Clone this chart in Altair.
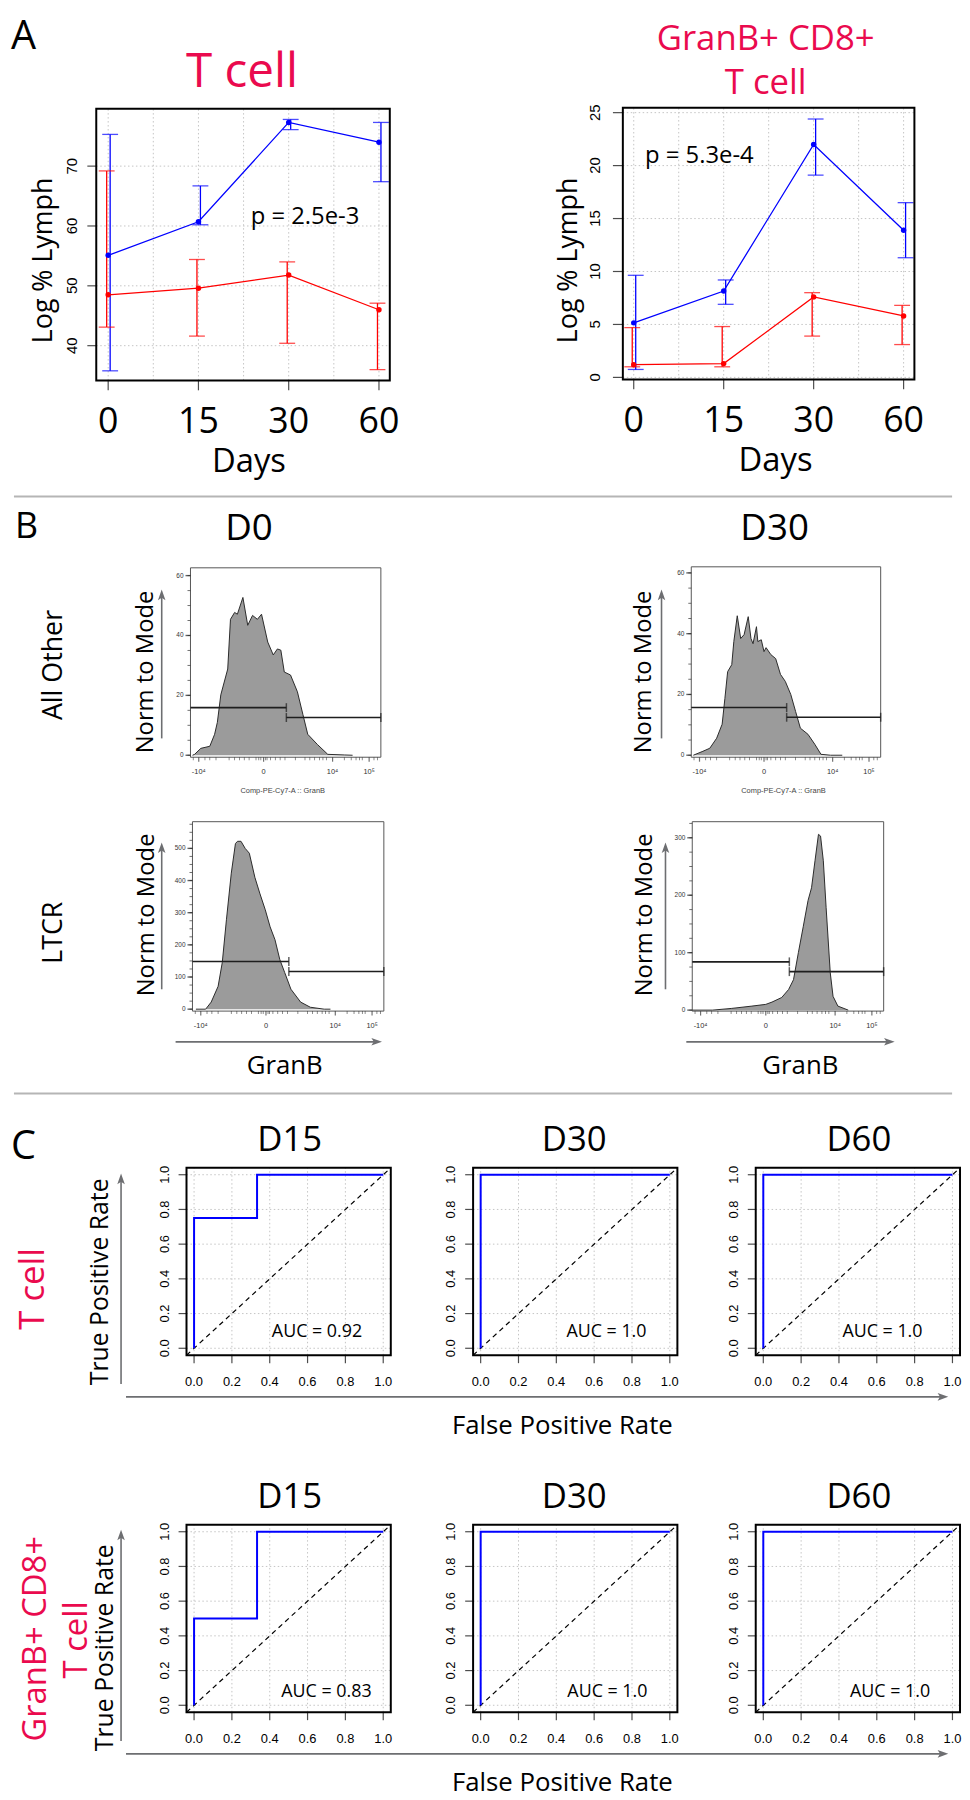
import altair as alt
import pandas as pd

# ---------------- Panel A data ----------------
days = ["0", "15", "30", "60"]
a_grid_x = [0, 0.5, 1, 1.5, 2, 2.5, 3]
tc_blue_mean = [55.1, 60.7, 77.3, 74.0]
tc_blue_low = [35.8, 60.2, 76.1, 67.4]
tc_blue_high = [75.3, 66.7, 77.8, 77.3]
tc_red_mean = [48.5, 49.6, 51.8, 46.0]
tc_red_low = [43.1, 41.6, 40.4, 36.0]
tc_red_high = [69.2, 54.4, 54.0, 47.1]
gb_blue_mean = [5.15, 8.15, 22.0, 13.9]
gb_blue_low = [0.75, 6.9, 19.1, 11.3]
gb_blue_high = [9.64, 9.2, 24.4, 16.5]
gb_red_mean = [1.2, 1.3, 7.6, 5.8]
gb_red_low = [1.0, 1.0, 3.9, 3.1]
gb_red_high = [4.7, 4.8, 8.0, 6.8]
tc_yticks = [40, 50, 60, 70]
gb_yticks = [0, 5, 10, 15, 20, 25]
p_texts = ["p = 2.5e-3", "p = 5.3e-4"]

# ---------------- Panel B data (display-scale GranB vs count) ----------------
logicle_ticks = [-0.94, 0.0, 1.0, 1.53]
logicle_labels = ["-10⁴", "0", "10⁴", "10⁵"]
logicle_minor = [-1.02, -0.85, -0.78, -0.69, -0.50, -0.42, -0.35, -0.28, -0.21, -0.11,
                 -0.07, -0.04, 0.03, 0.05, 0.10, 0.17, 0.24, 0.31, 0.46, 0.60, 0.67,
                 0.74, 0.81, 0.86, 0.91, 1.17, 1.27, 1.34, 1.39, 1.43, 1.60, 1.65]
ao_d0_x = [-1.03, -1.00, -0.91, -0.78, -0.71, -0.67, -0.62, -0.52, -0.48, -0.42, -0.38,
           -0.30, -0.23, -0.16, -0.09, -0.03, 0.06, 0.14, 0.20, 0.25, 0.30, 0.39, 0.49,
           0.57, 0.64, 0.78, 0.93, 1.17, 1.29]
ao_d0_y = [0, 0.3, 2.3, 3.0, 7.0, 11.0, 20.2, 28.8, 45.4, 47.7, 47.1, 52.7, 43.4, 46.7,
           45.4, 47.1, 37.8, 33.5, 35.5, 35.1, 27.8, 26.8, 21.2, 13.6, 7.0, 3.6, 0.3, 0.1, 0]
ao_d30_x = [-1.03, -0.89, -0.79, -0.69, -0.61, -0.57, -0.53, -0.47, -0.44, -0.39, -0.34,
            -0.29, -0.23, -0.19, -0.16, -0.11, -0.09, -0.04, 0.00, 0.03, 0.10, 0.17, 0.24,
            0.31, 0.39, 0.46, 0.53, 0.64, 0.74, 0.83, 0.97, 1.14]
ao_d30_y = [0, 1.3, 2.3, 5.6, 10.2, 18.7, 27.5, 29.8, 37.4, 45.9, 38.4, 39.7, 45.6, 38.4,
            36.7, 42.3, 37.4, 38.0, 34.1, 35.4, 33.1, 31.8, 26.6, 24.3, 20.0, 14.4, 8.9,
            6.9, 3.6, 0.3, 0, 0]
ltcr_d0_x = [-1.01, -0.87, -0.79, -0.69, -0.63, -0.57, -0.50, -0.44, -0.41, -0.36, -0.30,
             -0.24, -0.16, -0.09, -0.01, 0.06, 0.13, 0.20, 0.27, 0.36, 0.50, 0.64, 0.84, 0.93]
ltcr_d0_y = [0, 0, 22, 71, 145, 278, 423, 515, 522, 522, 500, 485, 410, 361, 309, 256,
             216, 154, 114, 62, 22, 6, 0, 0]
ltcr_d30_x = [-1.06, -0.77, -0.49, -0.20, 0.00, 0.09, 0.23, 0.33, 0.40, 0.47, 0.54, 0.61,
              0.66, 0.71, 0.76, 0.79, 0.83, 0.87, 0.93, 0.97, 1.04, 1.19]
ltcr_d30_y = [0, 0, 3, 7, 10, 14, 22, 36, 53, 100, 145, 191, 213, 260, 306, 303, 260, 179,
              65, 24, 7, 0]
gate_split = [0.33, 0.33, 0.33, 0.34]
gate_left_level = [15.9, 15.7, 148, 84]
gate_right_level = [12.6, 12.5, 117, 67]
ao_yticks = list(range(0, 61, 5))
ao_ylabels = [0, 20, 40, 60]
ltcr_d0_yticks = list(range(0, 576, 25))
ltcr_d0_ylabels = [0, 100, 200, 300, 400, 500]
ltcr_d30_yticks = list(range(0, 326, 25))
ltcr_d30_ylabels = [0, 100, 200, 300]

# ---------------- Panel C data ----------------
roc_days = ["D15", "D30", "D60"]
roc_ticks = [0.0, 0.2, 0.4, 0.6, 0.8, 1.0]
roc_tick_labels = ["0.0", "0.2", "0.4", "0.6", "0.8", "1.0"]
tcell_fpr = [[0, 0, 0.333, 0.333, 1], [0, 0, 1], [0, 0, 1]]
tcell_tpr = [[0, 0.75, 0.75, 1, 1], [0, 1, 1], [0, 1, 1]]
granb_fpr = [[0, 0, 0.333, 0.333, 1], [0, 0, 1], [0, 0, 1]]
granb_tpr = [[0, 0.5, 0.5, 1, 1], [0, 1, 1], [0, 1, 1]]
tcell_auc = ["AUC = 0.92", "AUC = 1.0", "AUC = 1.0"]
granb_auc = ["AUC = 0.83", "AUC = 1.0", "AUC = 1.0"]

# ---------------- styling / layout ----------------
W, H = 962, 1792
SANS = "Open Sans"
RSANS = "Liberation Sans"
PINK = "#EA0A4E"
GREY = "#6D6E71"
BLUE = "#0000FF"
RED = "#FF0000"
GRID = "#C4C4C4"
ONE = pd.DataFrame({"k": [0]})


def XD(v, xs):
    return alt.XDatum(v, scale=xs, axis=None, type="quantitative")


def YD(v, ys):
    return alt.YDatum(v, scale=ys, axis=None, type="quantitative")


def txt(s, x, y, size, angle=0, color="black", font=SANS, align="center", baseline="alphabetic"):
    return alt.Chart(ONE).mark_text(text=s, fontSize=size, angle=angle, color=color, font=font,
                                    align=align, baseline=baseline).encode(
        x=alt.value(x), y=alt.value(y))


def hline(x0, x1, y, color=GREY, w=1.6):
    return alt.Chart(ONE).mark_rule(color=color, strokeWidth=w).encode(
        x=alt.value(x0), x2=alt.value(x1), y=alt.value(y))


def vline(x, y0, y1, color=GREY, w=1.6):
    return alt.Chart(ONE).mark_rule(color=color, strokeWidth=w).encode(
        x=alt.value(x), y=alt.value(y0), y2=alt.value(y1))


UP = "M0,-1L0.62,0.75L0,0.35L-0.62,0.75Z"
RIGHT = "M1,0L-0.75,0.62L-0.35,0L-0.75,-0.62Z"


def head(x, y, shape):
    return alt.Chart(ONE).mark_point(shape=shape, filled=True, size=150, color=GREY,
                                     opacity=1, strokeWidth=0).encode(x=alt.value(x), y=alt.value(y))


def arrow_up(x, ybot, ytip):
    return [vline(x, ybot, ytip + 4), head(x, ytip + 6, UP)]


def arrow_right(x0, xtip, y):
    return [hline(x0, xtip - 4, y), head(xtip - 6, y, RIGHT)]


def frame(xs, ys, xdom, ydom, color="black", w=2.0):
    return alt.Chart(ONE).mark_rect(fill="transparent", stroke=color, strokeWidth=w).encode(
        x=XD(xdom[0], xs), x2=alt.X2Datum(xdom[1]), y=YD(ydom[0], ys), y2=alt.Y2Datum(ydom[1]))


def vgrid(vals, xs, ys, ydom):
    return alt.Chart(pd.DataFrame({"g": vals})).mark_rule(
        color=GRID, strokeDash=[1.5, 2.5], strokeWidth=1).encode(
        x=alt.X("g:Q", scale=xs, axis=None), y=YD(ydom[0], ys), y2=alt.Y2Datum(ydom[1]))


def hgrid(vals, xs, ys, xdom):
    return alt.Chart(pd.DataFrame({"g": vals})).mark_rule(
        color=GRID, strokeDash=[1.5, 2.5], strokeWidth=1).encode(
        y=alt.Y("g:Q", scale=ys, axis=None), x=XD(xdom[0], xs), x2=alt.X2Datum(xdom[1]))


def x_axis(vals, labels, xs, ys, ydom, tick, lab_off, font, size, color="black", tw=1.2):
    d = pd.DataFrame({"v": vals, "lab": labels})
    out = [alt.Chart(d).mark_tick(orient="vertical", size=tick, thickness=tw, color=color,
                                  yOffset=tick / 2).encode(
        x=alt.X("v:Q", scale=xs, axis=None), y=YD(ydom[0], ys))]
    out.append(alt.Chart(d).mark_text(font=font, fontSize=size, color=color,
                                      baseline="alphabetic", yOffset=lab_off).encode(
        x=alt.X("v:Q", scale=xs, axis=None), y=YD(ydom[0], ys), text="lab:N"))
    return out


def y_ticks(vals, xs, ys, xdom, tick, color="black", tw=1.2):
    d = pd.DataFrame({"v": vals})
    return alt.Chart(d).mark_tick(orient="horizontal", size=tick, thickness=tw, color=color,
                                  xOffset=-tick / 2).encode(
        x=XD(xdom[0], xs), y=alt.Y("v:Q", scale=ys, axis=None))


def y_labels(vals, labels, xs, ys, xdom, off, font, size, rotate, color="black"):
    d = pd.DataFrame({"v": vals, "lab": labels})
    if rotate:
        m = alt.Chart(d).mark_text(font=font, fontSize=size, color=color, angle=270,
                                   align="center", baseline="alphabetic", xOffset=-off)
    else:
        m = alt.Chart(d).mark_text(font=font, fontSize=size, color=color, align="right",
                                   baseline="middle", xOffset=-off)
    return m.encode(x=XD(xdom[0], xs), y=alt.Y("v:Q", scale=ys, axis=None), text="lab:N")


def panel_a(bm, bl, bh, rm, rl, rh, xr, yr, xdom, ydom, yticks, tick, lab_off, ptxt, px, py):
    idx = list(range(len(days)))
    xs = alt.Scale(domain=xdom, range=xr, nice=False, zero=False)
    ys = alt.Scale(domain=ydom, range=yr, nice=False, zero=False)
    d = pd.DataFrame({"i": idx, "bm": bm, "bl": bl, "bh": bh, "rm": rm, "rl": rl, "rh": rh})
    c = alt.Chart(d)
    X = alt.X("i:Q", scale=xs, axis=None)

    def Y(f):
        return alt.Y(f + ":Q", scale=ys, axis=None)

    layers = [
        vgrid(a_grid_x, xs, ys, ydom),
        hgrid(yticks, xs, ys, xdom),
        c.mark_line(color=BLUE, strokeWidth=1.3).encode(x=X, y=Y("bm")),
        c.mark_line(color=RED, strokeWidth=1.3).encode(x=X, y=Y("rm")),
        c.mark_rule(color=BLUE, strokeWidth=1.3, xOffset=2).encode(x=X, y=Y("bl"), y2="bh:Q"),
        c.mark_rule(color=RED, strokeWidth=1.3, xOffset=-1.5).encode(x=X, y=Y("rl"), y2="rh:Q"),
    ]
    for f in ["bl", "bh"]:
        layers.append(c.mark_tick(orient="horizontal", size=16, thickness=1.3, color=BLUE,
                                  xOffset=2).encode(x=X, y=Y(f)))
    for f in ["rl", "rh"]:
        layers.append(c.mark_tick(orient="horizontal", size=16, thickness=1.3, color=RED,
                                  xOffset=-1.5).encode(x=X, y=Y(f)))
    layers.append(c.mark_circle(color=BLUE, size=30, opacity=1).encode(x=X, y=Y("bm")))
    layers.append(c.mark_circle(color=RED, size=30, opacity=1).encode(x=X, y=Y("rm")))
    layers.append(frame(xs, ys, xdom, ydom))
    layers.append(alt.Chart(ONE).mark_text(text=ptxt, font=SANS, fontSize=24,
                                           baseline="alphabetic").encode(
        x=XD(px, xs), y=YD(py, ys)))
    layers += x_axis(idx, days, xs, ys, ydom, 10, 53, SANS, 36)
    layers.append(y_ticks(yticks, xs, ys, xdom, tick))
    layers.append(y_labels(yticks, [str(v) for v in yticks], xs, ys, xdom, lab_off, RSANS, 15,
                           True))
    return alt.layer(*layers)


HX_DOM = [-1.06, 1.70]


def histo(xv, yv, xr, yr, ydom, yvals, ylabs, split, gl, gr):
    xdom = HX_DOM
    xs = alt.Scale(domain=xdom, range=xr, nice=False, zero=False)
    ys = alt.Scale(domain=ydom, range=yr, nice=False, zero=False)
    d = pd.DataFrame({"t": xv, "v": yv})
    area = alt.Chart(d).mark_area(color="#9B9B9B", opacity=1,
                                  line=alt.OverlayMarkDef(color="#2A2A2A", strokeWidth=1)).encode(
        x=alt.X("t:Q", scale=xs, axis=None), y=alt.Y("v:Q", scale=ys, axis=None))
    gates = pd.DataFrame({"x0": [xdom[0], split], "x1": [split, xdom[1]], "y": [gl, gr]})
    grule = alt.Chart(gates).mark_rule(color="#1E1E1E", strokeWidth=1.6).encode(
        x=alt.X("x0:Q", scale=xs, axis=None), x2="x1:Q", y=alt.Y("y:Q", scale=ys, axis=None))
    ends = pd.DataFrame({"x": [split, split, xdom[1]], "y": [gl, gr, gr]})
    gend = alt.Chart(ends).mark_tick(orient="vertical", size=9, thickness=1.5,
                                     color="#1E1E1E").encode(
        x=alt.X("x:Q", scale=xs, axis=None), y=alt.Y("y:Q", scale=ys, axis=None))
    minor = alt.Chart(pd.DataFrame({"m": logicle_minor})).mark_tick(
        orient="vertical", size=3, thickness=0.8, color="#333", yOffset=1.5).encode(
        x=alt.X("m:Q", scale=xs, axis=None), y=YD(ydom[0], ys))
    fr = frame(xs, ys, xdom, ydom, color="#555", w=1)
    layers = [area, fr, grule, gend, minor]
    layers += x_axis(logicle_ticks, logicle_labels, xs, ys, ydom, 4.5, 17, RSANS, 7.5, "#333")
    layers.append(y_ticks(yvals, xs, ys, xdom, 3, "#333", 1))
    layers.append(y_ticks(ylabs, xs, ys, xdom, 5, "#222", 1.4))
    layers.append(y_labels(ylabs, [str(v) for v in ylabs], xs, ys, xdom, 7, RSANS, 6.5, False,
                           "#333"))
    return alt.layer(*layers)


ROC_DOM = [-0.04, 1.04]


def roc(fpr, tpr, xr, yr, auc, ax, ay):
    xs = alt.Scale(domain=ROC_DOM, range=xr, nice=False, zero=False)
    ys = alt.Scale(domain=ROC_DOM, range=yr, nice=False, zero=False)
    d = pd.DataFrame({"f": fpr, "t": tpr, "o": list(range(len(fpr)))})
    curve = alt.Chart(d).mark_line(color=BLUE, strokeWidth=2).encode(
        x=alt.X("f:Q", scale=xs, axis=None), y=alt.Y("t:Q", scale=ys, axis=None), order="o:Q")
    diag = alt.Chart(ONE).mark_rule(color="black", strokeDash=[5, 4], strokeWidth=1.2).encode(
        x=XD(ROC_DOM[0], xs), x2=alt.X2Datum(ROC_DOM[1]), y=YD(ROC_DOM[0], ys),
        y2=alt.Y2Datum(ROC_DOM[1]))
    note = alt.Chart(ONE).mark_text(text=auc, font=SANS, fontSize=18,
                                    baseline="alphabetic").encode(x=XD(ax, xs), y=YD(ay, ys))
    layers = [vgrid(roc_ticks, xs, ys, ROC_DOM), hgrid(roc_ticks, xs, ys, ROC_DOM),
              diag, curve, frame(xs, ys, ROC_DOM, ROC_DOM), note]
    layers += x_axis(roc_ticks, roc_tick_labels, xs, ys, ROC_DOM, 8, 31, RSANS, 13)
    layers.append(y_ticks(roc_ticks, xs, ys, ROC_DOM, 8))
    layers.append(y_labels(roc_ticks, roc_tick_labels, xs, ys, ROC_DOM, 18, RSANS, 13, True))
    return alt.layer(*layers)


layers = []

# ---------- Panel A ----------
layers.append(panel_a(tc_blue_mean, tc_blue_low, tc_blue_high, tc_red_mean, tc_red_low,
                      tc_red_high, [89, 385], [368, 94], [-0.132, 3.12], [34.2, 79.6],
                      tc_yticks, 9, 19, p_texts[0], 2.18, 60.4))
layers.append(panel_a(gb_blue_mean, gb_blue_low, gb_blue_high, gb_red_mean, gb_red_low,
                      gb_red_high, [620, 914], [367, 93], [-0.121, 3.12], [-0.19, 25.47],
                      gb_yticks, 10, 23, p_texts[1], 0.73, 20.2))
layers += [
    txt("A", 3, 34, 40, align="left"),
    txt("T cell", 236, 72, 48, color=PINK),
    txt("GranB+ CD8+", 764, 35, 35, color=PINK),
    txt("T cell", 764, 79, 35, color=PINK),
    txt("Days", 243, 460, 33),
    txt("Days", 774, 459, 33),
    txt("Log % Lymph", 44, 247, 27, angle=270),
    txt("Log % Lymph", 574, 247, 27, angle=270),
]

# ---------- Panel B ----------
layers += [
    hline(6, 952, 485, color="#B5B5B5", w=2),
    txt("B", 7, 527, 36, align="left"),
    txt("D0", 243, 529, 37),
    txt("D30", 773, 529, 37),
]
layers.append(histo(ao_d0_x, ao_d0_y, [184, 376], [748, 557], [-0.66, 62.6], ao_yticks,
                    ao_ylabels, gate_split[0], gate_left_level[0], gate_right_level[0]))
layers.append(histo(ao_d30_x, ao_d30_y, [689, 880], [748, 556], [-0.66, 62.0], ao_yticks,
                    ao_ylabels, gate_split[1], gate_left_level[1], gate_right_level[1]))
layers.append(histo(ltcr_d0_x, ltcr_d0_y, [186, 379], [1004, 813], [-6, 583], ltcr_d0_yticks,
                    ltcr_d0_ylabels, gate_split[2], gate_left_level[2], gate_right_level[2]))
layers.append(histo(ltcr_d30_x, ltcr_d30_y, [690, 883], [1004, 813], [-1.7, 328],
                    ltcr_d30_yticks, ltcr_d30_ylabels, gate_split[3], gate_left_level[3],
                    gate_right_level[3]))
layers += [
    txt("Comp-PE-Cy7-A :: GranB", 277, 782, 7.5, font=RSANS, color="#444", baseline="middle"),
    txt("Comp-PE-Cy7-A :: GranB", 782, 782, 7.5, font=RSANS, color="#444", baseline="middle"),
    txt("All Other", 54, 655, 27, angle=270),
    txt("Norm to Mode", 146, 662, 24, angle=270),
    txt("Norm to Mode", 648, 662, 24, angle=270),
    txt("LTCR", 54, 925, 27, angle=270),
    txt("Norm to Mode", 147, 907, 24, angle=270),
    txt("Norm to Mode", 649, 907, 24, angle=270),
    txt("GranB", 279, 1067, 26),
    txt("GranB", 799, 1067, 26),
]
layers += arrow_up(155, 729, 579) + arrow_up(659, 729, 579)
layers += arrow_up(155, 982, 834) + arrow_up(663, 982, 834)
layers += arrow_right(169, 377, 1035) + arrow_right(684, 894, 1035)

# ---------- Panel C ----------
roc_x = [[180, 386], [469, 675], [754, 960]]
roc_cx = [284, 571, 858]
auc_x1 = [0.65, 0.665, 0.63]
auc_x2 = [0.70, 0.67, 0.67]
for k in range(3):
    layers.append(roc(tcell_fpr[k], tcell_tpr[k], roc_x[k], [1351, 1162], tcell_auc[k],
                      auc_x1[k], 0.063))
    layers.append(roc(granb_fpr[k], granb_tpr[k], roc_x[k], [1711, 1522], granb_auc[k],
                      auc_x2[k], 0.05))
    layers.append(txt(roc_days[k], roc_cx[k], 1145, 35))
    layers.append(txt(roc_days[k], roc_cx[k], 1505, 35))
layers += [
    hline(6, 952, 1087, color="#B5B5B5", w=2),
    txt("C", 3, 1153, 40, align="left"),
    txt("T cell", 36, 1284, 35, angle=270, color=PINK),
    txt("True Positive Rate", 101, 1277, 25, angle=270),
    txt("False Positive Rate", 559, 1430, 26),
    txt("GranB+ CD8+", 38, 1637, 33, angle=270, color=PINK),
    txt("T cell", 80, 1638, 33, angle=270, color=PINK),
    txt("True Positive Rate", 106, 1646, 25, angle=270),
    txt("False Positive Rate", 559, 1790, 26),
]
layers += arrow_up(114, 1380, 1168) + arrow_right(119, 948, 1393)
layers += arrow_up(114, 1740, 1527) + arrow_right(119, 948, 1753)

chart = alt.layer(*layers).resolve_scale(
    x="independent", y="independent"
).properties(
    width=W, height=H, padding=0, autosize=alt.AutoSizeParams(type="none")
).configure_view(stroke="transparent")

chart.save("out.html", embed_options={"renderer": "svg", "actions": False})
